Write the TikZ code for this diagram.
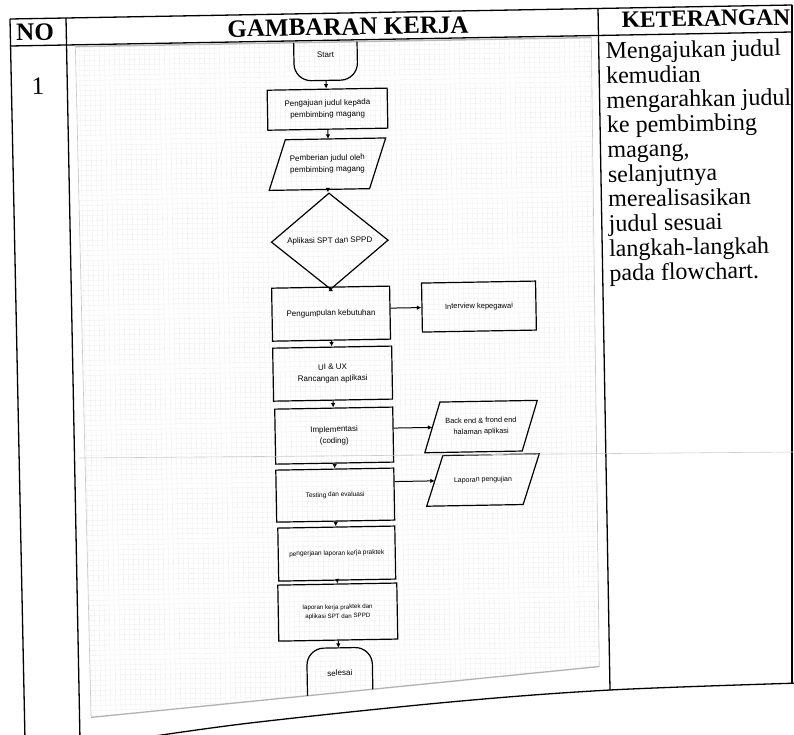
\documentclass[tikz,border=0pt]{standalone}
\usepackage{fontspec}
\setmainfont{Liberation Serif}
\newfontfamily\flowfont{Liberation Sans}
\usetikzlibrary{arrows.meta,shapes.geometric}
% parallelogram outline around a rectangular node, top edge shifted right
\newcommand\drawpara[2]{\draw[boxline] ([xshift=-#2pt]#1.south west) -- ([xshift=-#2pt]#1.south east) -- ([xshift=#2pt]#1.north east) -- ([xshift=#2pt]#1.north west) -- cycle;}
\begin{document}
\begin{tikzpicture}[x=1pt,y=-1pt,
  tableline/.style={line width=1.3pt},
  boxline/.style={line width=1.2pt},
  fsz/.style 2 args={font=\flowfont\fontsize{#1}{#2}\selectfont},
  ftext/.style={align=center, inner sep=1pt, fsz={8}{11.5}},
  process/.style={ftext, rectangle, draw, boxline},
  iobox/.style={ftext, rectangle},
  decision/.style={ftext, diamond, draw, boxline},
  flow/.style={line width=1pt, -{Latex[length=4.5pt,width=4.5pt]}},
  head/.style={font=\bfseries\fontsize{25}{28}\selectfont, inner sep=0},
]
\useasboundingbox (0,0) rectangle (794,734);
\fill[white] (0,0) rectangle (794,734);

% table rules
\draw[tableline] (10,19) -- (792,5);
\draw[tableline] (10,46) -- (792,32);
\draw[tableline] (10,19) -- (25,740);
\draw[tableline] (66,18) -- (80,740);
\draw[tableline] (598,8.3) -- (610,690);
\draw[tableline] (792,5) -- (792,684);
% lower page edge
\draw[tableline] plot[smooth, tension=0.55] coordinates {(128,740) (250,723) (450,702) (610,690) (800,683)};

\begin{scope}[rotate around={1:(397,367)}, transform shape]
  % pasted flowchart sheet with its grid
  \coordinate (f1) at (81,41);
  \coordinate (f2) at (597,41);
  \coordinate (f3) at (594,670);
  \coordinate (f4) at (85,712);
  \begin{scope}
    \clip (f1) -- (f2) -- (f3) -- (f4) -- cycle;
    \draw[black!7, line width=0.3pt, step=5pt] (60,740) grid (620,20);
  \end{scope}
  \draw[gray!55, line width=1.5pt] (f1) -- (f2);
  \draw[gray!45, line width=0.6pt] (f2) -- (f3) (f4) -- (f1);
  \draw[gray!60, line width=1.3pt] (f3) -- (f4);

  % headings and description
  \node[head] (hno) at (41,26) {NO};
  \node[head] (hgk) at (354,26) {GAMBARAN KERJA};
  \node[head, font=\bfseries\fontsize{23.5}{28}\selectfont] (hket) at (712,24) {KETERANGAN};
  \node[font=\fontsize{25}{28}\selectfont, inner sep=0] (num) at (43,80) {1};
  \node[anchor=north west, align=left, inner sep=0, font=\fontsize{24}{24.7}\selectfont] (ket) at (611,45.6)
    {Mengajukan judul\\kemudian\\mengarahkan judul\\ke pembimbing\\magang,\\selanjutnya\\merealisasikan\\judul sesuai\\langkah-langkah\\pada flowchart.};

  % flowchart
  \node[inner sep=0, minimum width=63, minimum height=38] (start) at (331,60) {};
  \node[ftext] (starttxt) at (331,53.5) {Start};
  \node[process, minimum width=120, minimum height=40] (b1) at (332,108) {Pengajuan judul kepada\\pembimbing magang};
  \node[iobox, minimum width=100, minimum height=50] (p1) at (331,163) {Pemberian judul oleh\\pembimbing magang};
  \drawpara{p1}{8.5}
  \node[decision, minimum width=117, minimum height=78] (d1) at (332,240) {Aplikasi SPT dan SPPD};
  \node[process, minimum width=118, minimum height=53] (b2) at (332,312.5) {Pengumpulan kebutuhan};
  \node[process, fsz={7.5}{10}, minimum width=114, minimum height=49] (b3) at (480,308) {Interview kepegawai};
  \node[process, minimum width=119, minimum height=53] (b4) at (332.5,372.5) {UI \& UX\\Rancangan aplikasi};
  \node[process, minimum width=118, minimum height=55] (b5) at (333,434.5) {Implementasi\\(coding)};
  \node[iobox, fsz={7.4}{11}, minimum width=97, minimum height=50] (p2) at (480,428) {Back end \& frond end\\halaman aplikasi};
  \drawpara{p2}{8}
  \node[process, fsz={6.5}{9}, minimum width=118, minimum height=52] (b6) at (333,494) {Testing dan evaluasi};
  \node[iobox, fsz={7}{10}, minimum width=96, minimum height=50] (p3) at (481,481.5) {Laporan pengujian};
  \drawpara{p3}{8.5}
  \node[process, fsz={6.5}{9}, minimum width=117, minimum height=53] (b7) at (333.5,552.5) {pengerjaan laporan kerja praktek};
  \node[process, fsz={6.2}{9}, minimum width=119, minimum height=56] (b8) at (333.5,611) {laporan kerja praktek dan\\aplikasi SPT dan SPPD};
  \node[ftext, inner sep=0, minimum width=65, minimum height=50] (stop) at (334.5,672) {selesai};
  \begin{scope}
    \clip (f1) -- (f2) -- (f3) -- (f4) -- cycle;
    \draw[boxline, rounded corners=17pt] (start.north west) -- (start.south west) -- (start.south east) -- (start.north east);
    \draw[boxline, rounded corners=17pt] (stop.south west) -- (stop.north west) -- (stop.north east) -- (stop.south east);
  \end{scope}

  % connectors
  \draw[flow] (start.south) -- (start.south |- b1.north);
  \draw[flow] (b1.south) -- (b1.south |- p1.north);
  \draw[flow] (p1.south) -- (p1.south |- d1.north);
  \draw[flow] (d1.south) -- (d1.south |- b2.north);
  \draw[flow] (b2.east |- b3.west) -- (b3.west);
  \draw[flow] (b2.south) -- (b2.south |- b4.north);
  \draw[flow] (b4.south) -- (b4.south |- b5.north);
  \draw[flow] (b5.east |- p2.west) -- (p2.west);
  \draw[flow] (b5.south) -- (b5.south |- b6.north);
  \draw[flow] (b6.east |- p3.west) -- (p3.west);
  \draw[flow] (b6.south) -- (b6.south |- b7.north);
  \draw[flow] (b7.south) -- (b7.south |- b8.north);
  \draw[flow] (b8.south) -- (b8.south |- stop.north);
\end{scope}

% scan seam across the sheet
\draw[gray!40, line width=0.6pt] (79,458) -- (794,452);
\end{tikzpicture}
\end{document}
